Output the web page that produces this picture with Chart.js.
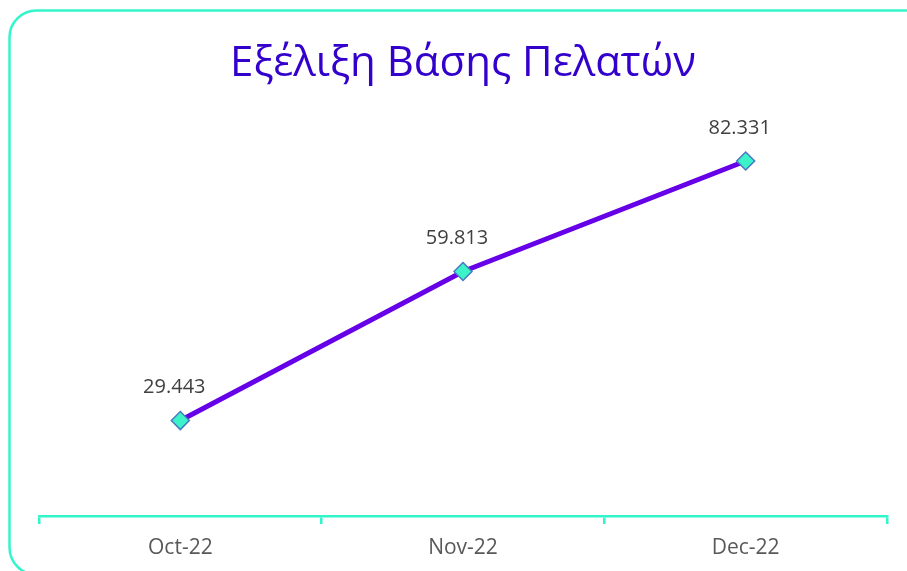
<!DOCTYPE html>
<html lang="el">
<head>
  <meta charset="UTF-8">
  <title>Εξέλιξη Βάσης Πελατών</title>
  <script src="https://cdn.jsdelivr.net/npm/chart.js"></script>
  <style>
    html, body {
      margin: 0;
      padding: 0;
      background: #ffffff;
    }
    #chart {
      display: block;
    }
  </style>
</head>
<body>
  <canvas id="chart" width="907" height="571"></canvas>

  <script>
    // Chart data
    const months = ["Oct-22", "Nov-22", "Dec-22"];
    const customers = [29443, 59813, 82331];
    const chartTitle = "Εξέλιξη Βάσης Πελατών";

    const turquoise = "#33F5CC";

    // Greek style number: 29443 -> 29.443
    function formatNumber(v) {
      return String(v).replace(/\B(?=(\d{3})+(?!\d))/g, ".");
    }

    // Rounded frame around the whole chart
    const framePlugin = {
      id: "frame",
      beforeDraw(chart) {
        const ctx = chart.ctx;
        ctx.save();
        ctx.strokeStyle = turquoise;
        ctx.lineWidth = 2.5;
        ctx.beginPath();
        ctx.roundRect(9.5, 10.5, 925, 564, 27);
        ctx.stroke();
        ctx.restore();
      }
    };

    // Value labels above each point
    const labelPlugin = {
      id: "valueLabels",
      afterDatasetsDraw(chart) {
        const ctx = chart.ctx;
        const meta = chart.getDatasetMeta(0);
        ctx.save();
        ctx.font = "20px 'Open Sans', sans-serif";
        ctx.fillStyle = "#404040";
        ctx.textAlign = "center";
        ctx.textBaseline = "middle";
        meta.data.forEach((pt, i) => {
          ctx.fillText(formatNumber(customers[i]), pt.x - 6, pt.y - 33);
        });
        ctx.restore();
      }
    };

    new Chart(document.getElementById("chart"), {
      type: "line",
      data: {
        labels: months,
        datasets: [{
          data: customers,
          borderColor: "#6600E8",
          borderWidth: 5,
          tension: 0,
          pointStyle: "rectRot",
          pointRadius: 9,
          pointHoverRadius: 9,
          pointBackgroundColor: "#3CF2C9",
          pointBorderColor: "#4A78C2",
          pointBorderWidth: 1.5
        }]
      },
      options: {
        responsive: false,
        animation: false,
        layout: {
          padding: { left: 39, right: 20, bottom: -1, top: 0 }
        },
        plugins: {
          legend: { display: false },
          tooltip: { enabled: false },
          title: {
            display: true,
            text: chartTitle,
            color: "#3300CC",
            font: { family: "'Open Sans', sans-serif", size: 42, weight: "normal" },
            padding: { top: 39, bottom: 34 }
          }
        },
        scales: {
          x: {
            offset: true,
            grid: {
              offset: true,
              drawOnChartArea: false,
              drawTicks: true,
              tickLength: 8,
              color: turquoise,
              lineWidth: 2.5
            },
            border: { display: true, color: turquoise, width: 2.5 },
            ticks: {
              color: "#595959",
              padding: 11.4,
              font: { family: "'Open Sans', sans-serif", size: 21 }
            }
          },
          y: {
            display: false,
            min: 10000,
            max: 90000
          }
        }
      },
      plugins: [framePlugin, labelPlugin]
    });
  </script>
</body>
</html>
